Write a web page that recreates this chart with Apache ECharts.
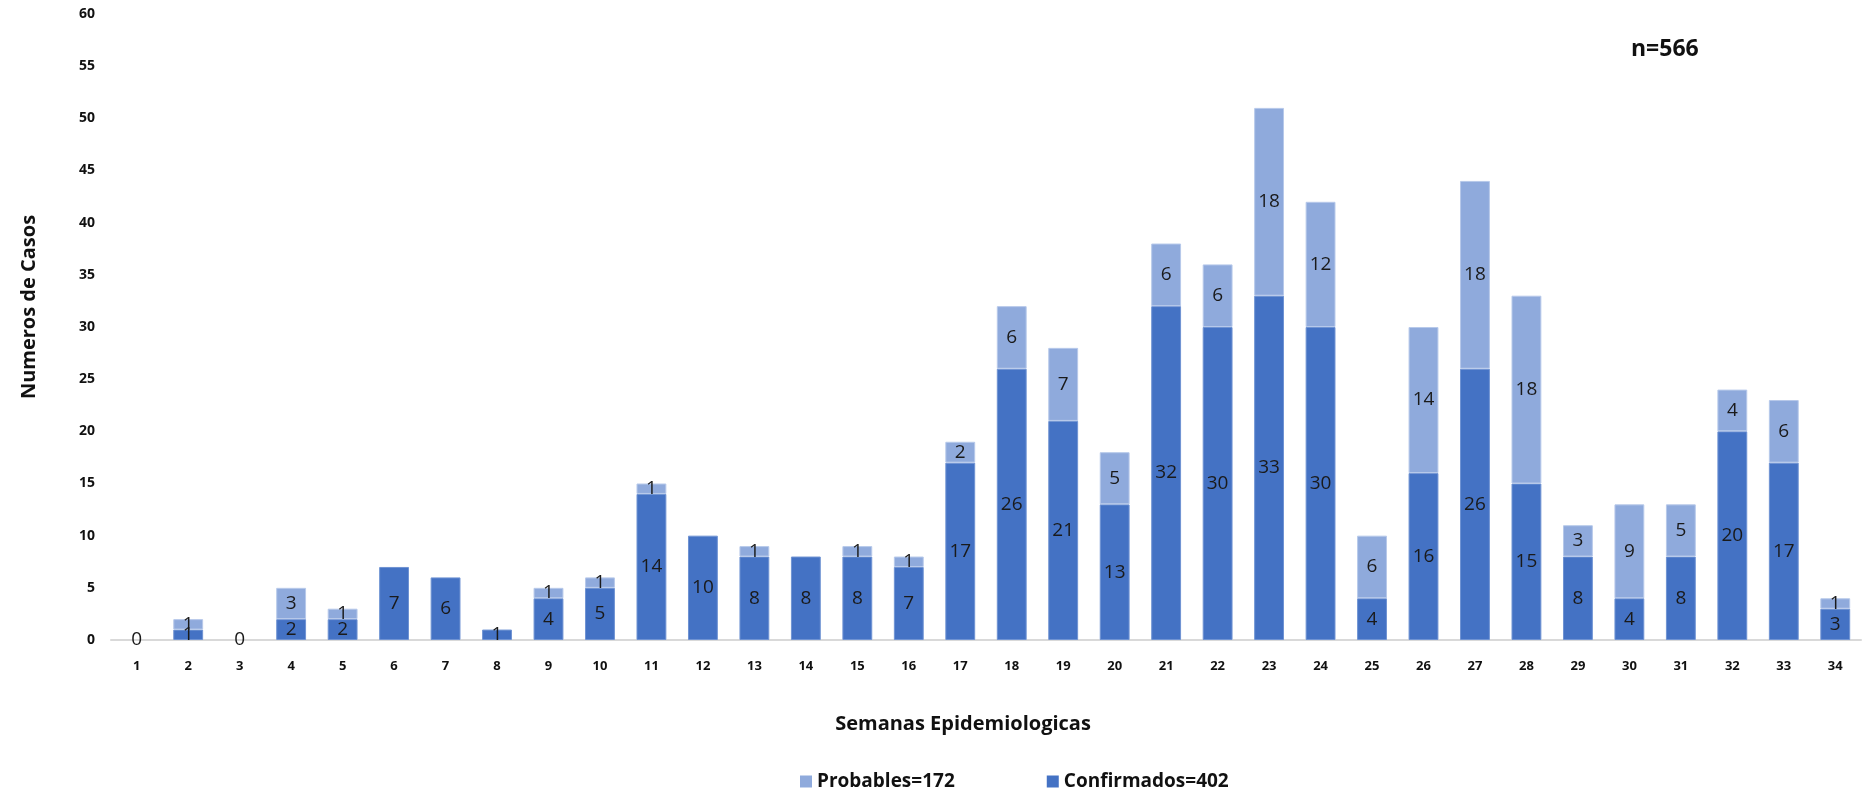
<!DOCTYPE html>
<html>
<head>
<meta charset="utf-8">
<script src="https://cdn.jsdelivr.net/npm/echarts@6/dist/echarts.min.js"></script>
<style>
html,body{margin:0;padding:0;background:#fff;}
#chart{width:1873px;height:796px;}
</style>
</head>
<body>
<div id="chart"></div>
<script>
const weeks = ['1','2','3','4','5','6','7','8','9','10','11','12','13','14','15','16','17','18','19','20','21','22','23','24','25','26','27','28','29','30','31','32','33','34'];
const confirmados = [0,1,0,2,2,7,6,1,4,5,14,10,8,8,8,7,17,26,21,13,32,30,33,30,4,16,26,15,8,4,8,20,17,3];
const probables   = [0,1,0,3,1,0,0,0,1,1,1,0,1,0,1,1,2,6,7,5,6,6,18,12,6,14,18,18,3,9,5,4,6,1];
const yTicks = {min: 0, max: 60, interval: 5};
const nameConf = 'Confirmados=402';
const nameProb = 'Probables=172';
const totalText = 'n=566';

const FONT = "'Open Sans', 'Noto Sans', sans-serif";
const chart = echarts.init(document.getElementById('chart'));
const labelStyle = {
  show: true, position: 'inside', color: '#1a1a1a', fontSize: 19, fontFamily: FONT
};
function items(arr, border) {
  return arr.map(v => ({value: v, itemStyle: {borderWidth: v > 0 ? 1 : 0, borderColor: border}}));
}
chart.setOption({
  animation: false,
  textStyle: {fontFamily: FONT},
  grid: {left: 111, right: 12, top: 14, bottom: 156, containLabel: false},
  title: {
    text: totalText, left: 1626, top: 33,
    textStyle: {fontSize: 23, fontWeight: 'bold', color: '#111', fontFamily: FONT}
  },
  legend: {
    data: [nameProb, nameConf], bottom: 0, left: 795, itemGap: 92,
    itemWidth: 12, itemHeight: 12, icon: 'rect',
    textStyle: {fontSize: 19, fontWeight: 'bold', color: '#111', fontFamily: FONT}
  },
  xAxis: {
    type: 'category', data: weeks,
    name: 'Semanas Epidemiologicas', nameLocation: 'middle', nameGap: 74,
    nameTextStyle: {fontSize: 20, fontWeight: 'bold', color: '#111', fontFamily: FONT, padding: [0, 46, 0, 0]},
    axisLine: {lineStyle: {color: '#d9d9d9', width: 2}},
    axisTick: {show: false},
    axisLabel: {fontSize: 13, fontWeight: 'bold', color: '#111', margin: 20, fontFamily: FONT}
  },
  yAxis: {
    type: 'value', min: yTicks.min, max: yTicks.max, interval: yTicks.interval,
    name: 'Numeros de Casos', nameLocation: 'middle', nameGap: 72,
    nameTextStyle: {fontSize: 20, fontWeight: 'bold', color: '#111', fontFamily: FONT, padding: [0, 0, 0, 40]},
    axisLine: {show: false}, axisTick: {show: false}, splitLine: {show: false},
    axisLabel: {fontSize: 14, fontWeight: 'bold', color: '#111', margin: 16, fontFamily: FONT}
  },
  series: [
    {
      name: nameConf, type: 'bar', stack: 'total', data: items(confirmados, '#6f93d3'), barWidth: '58%',
      itemStyle: {color: '#4472C4'},
      label: Object.assign({}, labelStyle)
    },
    {
      name: nameProb, type: 'bar', stack: 'total', data: items(probables, '#b7c9ea'), barWidth: '58%',
      itemStyle: {color: '#8FAADC'},
      label: Object.assign({}, labelStyle, {formatter: p => p.value > 0 ? String(p.value) : ''})
    }
  ]
});
</script>
</body>
</html>
